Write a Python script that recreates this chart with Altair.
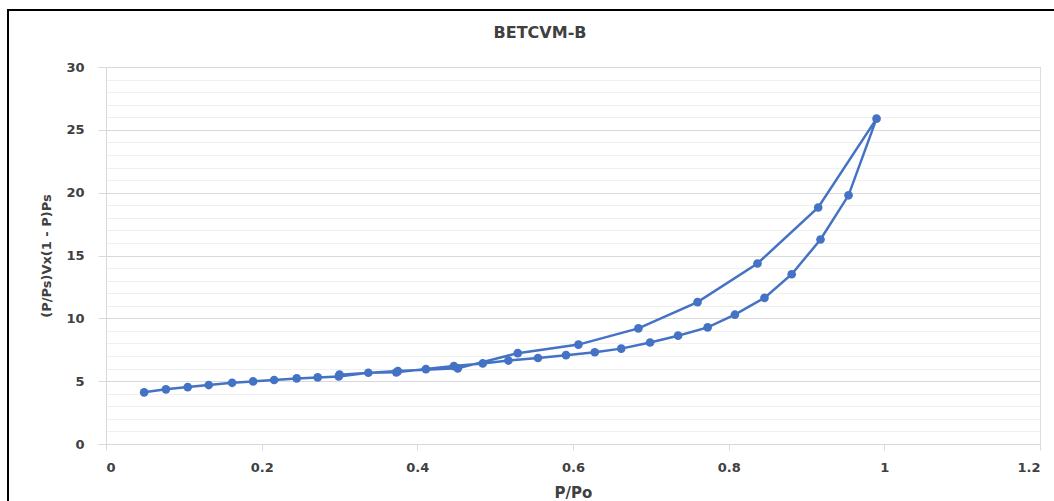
import altair as alt
import pandas as pd

# Adsorption branch (low -> high P/Po)
ads_x = [0.049, 0.077, 0.105, 0.132, 0.162, 0.189, 0.216, 0.245, 0.272, 0.299,
         0.337, 0.373, 0.411, 0.447, 0.484, 0.517, 0.555, 0.591, 0.628, 0.662,
         0.699, 0.735, 0.773, 0.808, 0.846, 0.881, 0.918, 0.954, 0.990]
ads_y = [4.11, 4.35, 4.53, 4.69, 4.87, 4.98, 5.09, 5.22, 5.30, 5.38,
         5.67, 5.70, 5.96, 6.20, 6.41, 6.64, 6.84, 7.07, 7.30, 7.59,
         8.08, 8.62, 9.28, 10.29, 11.63, 13.51, 16.27, 19.79, 25.89]
# Desorption branch (high -> low P/Po)
des_x = [0.915, 0.837, 0.760, 0.684, 0.607, 0.529, 0.452, 0.375, 0.300]
des_y = [18.82, 14.36, 11.29, 9.20, 7.91, 7.23, 6.02, 5.80, 5.52]

chart_title = "BETCVM-B"
x_ticks = [0, 0.2, 0.4, 0.6, 0.8, 1, 1.2]
y_ticks = list(range(0, 31))

xs = ads_x + des_x
ys = ads_y + des_y
df = pd.DataFrame({"x": xs, "y": ys, "idx": list(range(len(xs)))})

FONT = "DejaVu Sans"
TXT = "#404040"
BLUE = "#4472C4"

x_enc = alt.X(
    "x:Q",
    scale=alt.Scale(domain=[0, 1.2], nice=False, zero=False),
    axis=alt.Axis(
        title="P/Po", values=x_ticks, grid=False, format="~g",
        labelFont=FONT, labelFontSize=13, labelFontWeight="bold", labelColor=TXT,
        titleFont=FONT, titleFontSize=15, titleFontWeight="bold", titleColor=TXT,
        domainColor="#d9d9d9", tickColor="#d9d9d9", tickSize=6,
        labelPadding=11, titlePadding=11,
    ),
)
y_enc = alt.Y(
    "y:Q",
    scale=alt.Scale(domain=[0, 30], nice=False),
    axis=alt.Axis(
        title="(P/Ps)Vx(1 - P)Ps", values=y_ticks,
        labelExpr="datum.value % 5 === 0 ? datum.label : ''",
        labelOverlap=False,
        gridColor={"condition": {"test": "datum.value % 5 === 0", "value": "#d9d9d9"}, "value": "#f0f0f0"},
        tickColor={"condition": {"test": "datum.value % 5 === 0", "value": "#d9d9d9"}, "value": "transparent"},
        tickSize=8,
        labelFont=FONT, labelFontSize=13, labelFontWeight="bold", labelColor=TXT,
        titleFont=FONT, titleFontSize=13, titleFontWeight="bold", titleColor=TXT,
        domainColor="#d9d9d9", labelPadding=14, titlePadding=12,
    ),
)

line = alt.Chart(df).mark_line(
    color=BLUE, strokeWidth=2.5,
    point=alt.OverlayMarkDef(filled=True, size=75, color=BLUE, opacity=1),
).encode(x=x_enc, y=y_enc, order=alt.Order("idx:Q"))

one = pd.DataFrame({"a": [0]})

frame = alt.Chart(one).mark_rect(
    filled=False, stroke="black", strokeWidth=2, fill=None
).encode(
    x=alt.value(-98), x2=alt.value(1100),
    y=alt.value(-57), y2=alt.value(600),
)

title_txt = alt.Chart(one).mark_text(
    text=chart_title, font=FONT, fontSize=16, fontWeight="bold", color=TXT,
    align="center", baseline="middle",
).encode(x=alt.value(434), y=alt.value(-34))

chart = alt.layer(line, frame, title_txt).properties(
    width=934, height=377,
    autosize=alt.AutoSizeParams(type="none"),
    padding={"left": 106, "top": 67, "right": 14, "bottom": 57},
).configure_view(stroke=None).configure(background="white")

chart.save("out.html", embed_options={"renderer": "svg", "actions": False})
